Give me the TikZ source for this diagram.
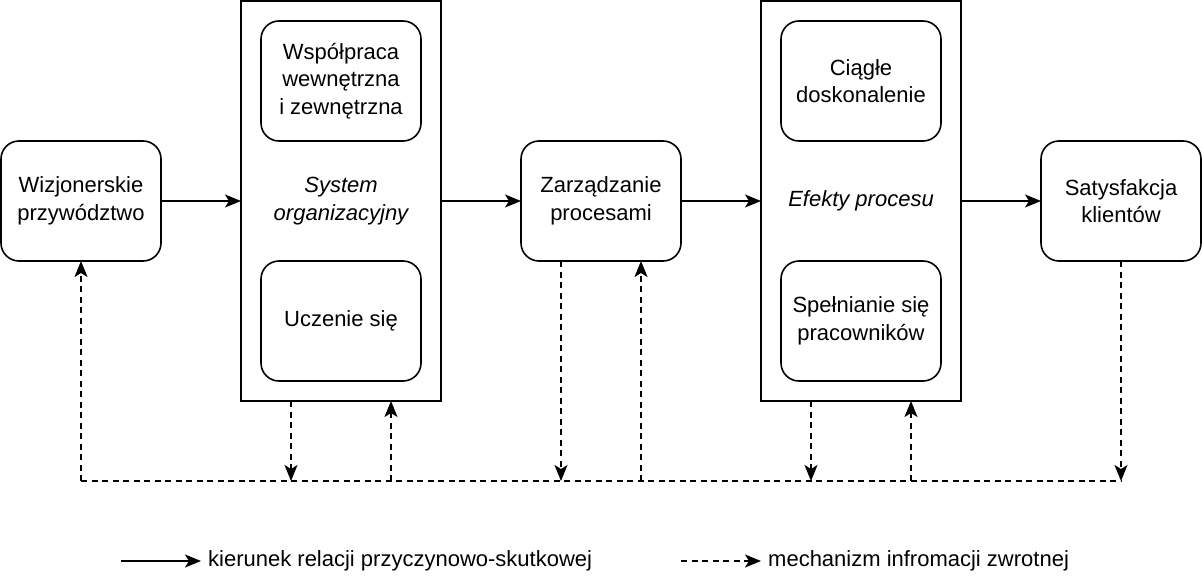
\documentclass[tikz,border=0pt]{standalone}
\usepackage{fontspec}
\setmainfont{Liberation Sans}
\usepackage{tikz}
\usetikzlibrary{arrows.meta,positioning}

\begin{document}
\begin{tikzpicture}[
  x=1pt,y=-1pt,
  node distance=80pt,
  box/.style={rectangle,rounded corners=18pt,draw,line width=1.6pt,align=center,minimum width=160pt,minimum height=120pt,outer sep=0pt,font=\fontsize{22}{27.5}\selectfont},
  frame/.style={rectangle,draw,line width=1.6pt,align=center,minimum width=200pt,minimum height=400pt,outer sep=0pt,font=\fontsize{22}{27.5}\selectfont\itshape},
  arrow/.style={-{Stealth[length=16pt,width=13pt,inset=4pt]},line width=1.6pt},
  fb/.style={arrow,dash pattern=on 6pt off 4.5pt},
  legend/.style={anchor=west,inner sep=7pt,font=\fontsize{22}{27.5}\selectfont}
]
\useasboundingbox (0,0) rectangle (1202,578);
\node[box] (wiz) at (81,201) {Wizjonerskie\\przywództwo};
\node[frame,right=of wiz] (sys) {System\\organizacyjny};
\node[box,below=20pt of sys.north,anchor=north] (wsp) {Współpraca\\wewnętrzna\\i zewnętrzna};
\node[box,above=20pt of sys.south,anchor=south] (ucz) {Uczenie się};
\node[box,right=of sys] (zar) {Zarządzanie\\procesami};
\node[frame,right=of zar] (efk) {Efekty procesu};
\node[box,below=20pt of efk.north,anchor=north] (cig) {Ciągłe\\doskonalenie};
\node[box,above=20pt of efk.south,anchor=south] (spe) {Spełnianie się\\pracowników};
\node[box,right=of efk] (sat) {Satysfakcja\\klientów};
\draw[arrow] (wiz) -- (sys);
\draw[arrow] (sys) -- (zar);
\draw[arrow] (zar) -- (efk);
\draw[arrow] (efk) -- (sat);
% feedback line
\coordinate (bwiz) at (81,481);
\coordinate (bsys1) at (291,481);
\coordinate (bsys2) at (391,481);
\coordinate (bzar1) at (561,481);
\coordinate (bzar2) at (641,481);
\coordinate (befk1) at (811,481);
\coordinate (befk2) at (911,481);
\coordinate (bsat) at (1121,481);
\draw[line width=1.6pt,dash pattern=on 6pt off 4.5pt] (bwiz) -- (bsat);
\draw[fb] (bwiz) -- (wiz.south);
\draw[fb] (sys.south -| bsys1) -- (bsys1);
\draw[fb] (bsys2) -- (sys.south -| bsys2);
\draw[fb] (zar.south -| bzar1) -- (bzar1);
\draw[fb] (bzar2) -- (zar.south -| bzar2);
\draw[fb] (efk.south -| befk1) -- (befk1);
\draw[fb] (befk2) -- (efk.south -| befk2);
\draw[fb] (sat.south) -- (bsat);
% legend
\coordinate (l1) at (121,561);
\node[legend] (t1) at (201,561) {kierunek relacji przyczynowo-skutkowej};
\draw[arrow] (l1) -- (t1.west);
\coordinate (l2) at (681,561);
\node[legend] (t2) at (761,561) {mechanizm infromacji zwrotnej};
\draw[fb] (l2) -- (t2.west);
\end{tikzpicture}
\end{document}
